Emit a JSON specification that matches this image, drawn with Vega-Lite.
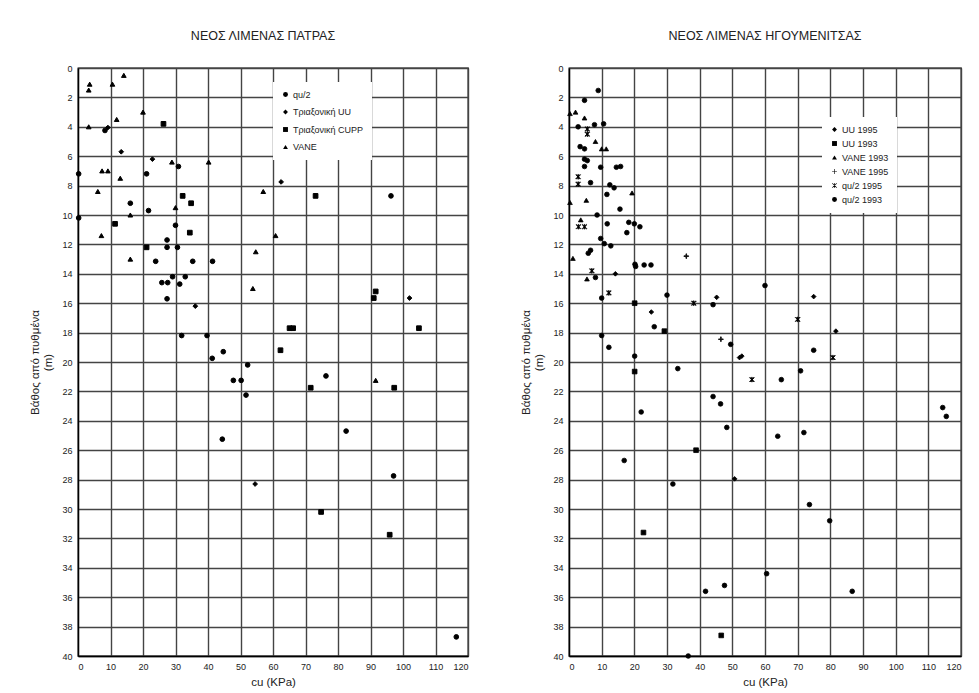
{
  "$schema": "https://vega.github.io/schema/vega-lite/v6.json",
  "background": "white",
  "padding": {"left": 28, "top": 28, "right": 5, "bottom": 5},
  "spacing": 50,
  "config": {
    "font": "Liberation Sans",
    "view": {"stroke": "black", "strokeWidth": 1.3},
    "axis": {"grid": true, "domain": true, "labelFontSize": 9, "labelColor": "#222", "titleFontSize": 11.5, "titleFontWeight": "normal", "titleColor": "#222", "gridColor": "#444444", "gridWidth": 1.4, "gridOpacity": 1, "domainColor": "#000000", "domainWidth": 1.3, "ticks": false, "labelPadding": 6, "titlePadding": 8},
    "title": {"fontSize": 12.5, "fontWeight": "normal", "color": "#222", "offset": 22, "anchor": "middle"},
    "legend": {"fillColor": "white", "padding": 8, "labelFontSize": 9, "labelColor": "#222", "symbolSize": 24, "symbolFillColor": "black", "symbolStrokeColor": "black", "symbolStrokeWidth": 1, "labelOffset": 3}
  },
  "datasets": {
    "patra": [
      {"cu": 3.6, "depth": 1.1, "series": "VANE"},
      {"cu": 3.3, "depth": 1.5, "series": "VANE"},
      {"cu": 10.6, "depth": 1.1, "series": "VANE"},
      {"cu": 14.1, "depth": 0.5, "series": "VANE"},
      {"cu": 20.0, "depth": 3.0, "series": "VANE"},
      {"cu": 11.9, "depth": 3.5, "series": "VANE"},
      {"cu": 3.3, "depth": 4.0, "series": "VANE"},
      {"cu": 28.9, "depth": 6.4, "series": "VANE"},
      {"cu": 40.2, "depth": 6.4, "series": "VANE"},
      {"cu": 7.4, "depth": 7.0, "series": "VANE"},
      {"cu": 9.2, "depth": 7.0, "series": "VANE"},
      {"cu": 13.0, "depth": 7.5, "series": "VANE"},
      {"cu": 6.1, "depth": 8.4, "series": "VANE"},
      {"cu": 30.0, "depth": 9.5, "series": "VANE"},
      {"cu": 16.1, "depth": 10.0, "series": "VANE"},
      {"cu": 7.2, "depth": 11.4, "series": "VANE"},
      {"cu": 57.0, "depth": 8.4, "series": "VANE"},
      {"cu": 54.7, "depth": 12.5, "series": "VANE"},
      {"cu": 16.1, "depth": 13.0, "series": "VANE"},
      {"cu": 60.8, "depth": 11.4, "series": "VANE"},
      {"cu": 53.8, "depth": 15.0, "series": "VANE"},
      {"cu": 91.6, "depth": 21.25, "series": "VANE"},
      {"cu": 26.3, "depth": 3.8, "series": "Τριαξονική CUPP"},
      {"cu": 32.2, "depth": 8.7, "series": "Τριαξονική CUPP"},
      {"cu": 34.8, "depth": 9.2, "series": "Τριαξονική CUPP"},
      {"cu": 11.4, "depth": 10.6, "series": "Τριαξονική CUPP"},
      {"cu": 34.4, "depth": 11.2, "series": "Τριαξονική CUPP"},
      {"cu": 21.1, "depth": 12.2, "series": "Τριαξονική CUPP"},
      {"cu": 73.1, "depth": 8.7, "series": "Τριαξονική CUPP"},
      {"cu": 91.6, "depth": 15.2, "series": "Τριαξονική CUPP"},
      {"cu": 91.0, "depth": 15.65, "series": "Τριαξονική CUPP"},
      {"cu": 65.1, "depth": 17.7, "series": "Τριαξονική CUPP"},
      {"cu": 66.2, "depth": 17.7, "series": "Τριαξονική CUPP"},
      {"cu": 104.9, "depth": 17.7, "series": "Τριαξονική CUPP"},
      {"cu": 62.3, "depth": 19.2, "series": "Τριαξονική CUPP"},
      {"cu": 71.6, "depth": 21.75, "series": "Τριαξονική CUPP"},
      {"cu": 97.3, "depth": 21.75, "series": "Τριαξονική CUPP"},
      {"cu": 74.8, "depth": 30.2, "series": "Τριαξονική CUPP"},
      {"cu": 95.9, "depth": 31.75, "series": "Τριαξονική CUPP"},
      {"cu": 13.3, "depth": 5.7, "series": "Τριαξονική UU"},
      {"cu": 22.9, "depth": 6.2, "series": "Τριαξονική UU"},
      {"cu": 62.5, "depth": 7.75, "series": "Τριαξονική UU"},
      {"cu": 36.1, "depth": 16.2, "series": "Τριαξονική UU"},
      {"cu": 102.0, "depth": 15.65, "series": "Τριαξονική UU"},
      {"cu": 54.5, "depth": 28.3, "series": "Τριαξονική UU"},
      {"cu": 9.2, "depth": 4.05, "series": "Τριαξονική UU"},
      {"cu": 8.3, "depth": 4.25, "series": "qu/2"},
      {"cu": 30.9, "depth": 6.7, "series": "qu/2"},
      {"cu": 0.2, "depth": 7.2, "series": "qu/2"},
      {"cu": 21.1, "depth": 7.2, "series": "qu/2"},
      {"cu": 16.1, "depth": 9.2, "series": "qu/2"},
      {"cu": 21.7, "depth": 9.7, "series": "qu/2"},
      {"cu": 0.2, "depth": 10.2, "series": "qu/2"},
      {"cu": 30.0, "depth": 10.7, "series": "qu/2"},
      {"cu": 27.4, "depth": 11.7, "series": "qu/2"},
      {"cu": 27.4, "depth": 12.2, "series": "qu/2"},
      {"cu": 30.6, "depth": 12.2, "series": "qu/2"},
      {"cu": 23.9, "depth": 13.15, "series": "qu/2"},
      {"cu": 35.3, "depth": 13.15, "series": "qu/2"},
      {"cu": 41.4, "depth": 13.15, "series": "qu/2"},
      {"cu": 29.1, "depth": 14.2, "series": "qu/2"},
      {"cu": 33.0, "depth": 14.2, "series": "qu/2"},
      {"cu": 25.8, "depth": 14.6, "series": "qu/2"},
      {"cu": 27.6, "depth": 14.6, "series": "qu/2"},
      {"cu": 31.3, "depth": 14.7, "series": "qu/2"},
      {"cu": 27.4, "depth": 15.7, "series": "qu/2"},
      {"cu": 31.9, "depth": 18.2, "series": "qu/2"},
      {"cu": 39.7, "depth": 18.2, "series": "qu/2"},
      {"cu": 44.7, "depth": 19.3, "series": "qu/2"},
      {"cu": 41.3, "depth": 19.75, "series": "qu/2"},
      {"cu": 52.2, "depth": 20.2, "series": "qu/2"},
      {"cu": 47.8, "depth": 21.25, "series": "qu/2"},
      {"cu": 50.2, "depth": 21.25, "series": "qu/2"},
      {"cu": 51.7, "depth": 22.25, "series": "qu/2"},
      {"cu": 44.4, "depth": 25.25, "series": "qu/2"},
      {"cu": 96.3, "depth": 8.7, "series": "qu/2"},
      {"cu": 76.3, "depth": 20.95, "series": "qu/2"},
      {"cu": 82.5, "depth": 24.7, "series": "qu/2"},
      {"cu": 97.1, "depth": 27.75, "series": "qu/2"},
      {"cu": 116.4, "depth": 38.7, "series": "qu/2"}
    ],
    "igoum": [
      {"cu": 0.3, "depth": 3.1, "series": "VANE 1993"},
      {"cu": 2.0, "depth": 3.0, "series": "VANE 1993"},
      {"cu": 4.75, "depth": 3.4, "series": "VANE 1993"},
      {"cu": 8.1, "depth": 5.0, "series": "VANE 1993"},
      {"cu": 10.0, "depth": 5.5, "series": "VANE 1993"},
      {"cu": 11.4, "depth": 5.5, "series": "VANE 1993"},
      {"cu": 19.3, "depth": 8.5, "series": "VANE 1993"},
      {"cu": 0.3, "depth": 9.15, "series": "VANE 1993"},
      {"cu": 5.3, "depth": 9.0, "series": "VANE 1993"},
      {"cu": 3.6, "depth": 10.33, "series": "VANE 1993"},
      {"cu": 1.2, "depth": 12.95, "series": "VANE 1993"},
      {"cu": 5.5, "depth": 14.35, "series": "VANE 1993"},
      {"cu": 35.9, "depth": 12.8, "series": "VANE 1995"},
      {"cu": 46.5, "depth": 18.45, "series": "VANE 1995"},
      {"cu": 5.6, "depth": 4.15, "series": "qu/2 1995"},
      {"cu": 5.6, "depth": 4.5, "series": "qu/2 1995"},
      {"cu": 2.8, "depth": 7.4, "series": "qu/2 1995"},
      {"cu": 2.8, "depth": 7.9, "series": "qu/2 1995"},
      {"cu": 2.9, "depth": 10.8, "series": "qu/2 1995"},
      {"cu": 4.75, "depth": 10.8, "series": "qu/2 1995"},
      {"cu": 7.0, "depth": 13.8, "series": "qu/2 1995"},
      {"cu": 12.2, "depth": 15.3, "series": "qu/2 1995"},
      {"cu": 38.2, "depth": 16.0, "series": "qu/2 1995"},
      {"cu": 70.0, "depth": 17.1, "series": "qu/2 1995"},
      {"cu": 80.8, "depth": 19.7, "series": "qu/2 1995"},
      {"cu": 56.0, "depth": 21.2, "series": "qu/2 1995"},
      {"cu": 20.1, "depth": 16.0, "series": "UU 1993"},
      {"cu": 20.1, "depth": 20.65, "series": "UU 1993"},
      {"cu": 38.9, "depth": 26.0, "series": "UU 1993"},
      {"cu": 22.8, "depth": 31.6, "series": "UU 1993"},
      {"cu": 46.6, "depth": 38.6, "series": "UU 1993"},
      {"cu": 29.2, "depth": 17.9, "series": "UU 1993"},
      {"cu": 45.2, "depth": 15.6, "series": "UU 1995"},
      {"cu": 74.9, "depth": 15.55, "series": "UU 1995"},
      {"cu": 81.7, "depth": 17.9, "series": "UU 1995"},
      {"cu": 52.2, "depth": 19.7, "series": "UU 1995"},
      {"cu": 52.9, "depth": 19.6, "series": "UU 1995"},
      {"cu": 14.2, "depth": 14.0, "series": "UU 1995"},
      {"cu": 25.2, "depth": 16.6, "series": "UU 1995"},
      {"cu": 50.7, "depth": 27.95, "series": "UU 1995"},
      {"cu": 8.95, "depth": 1.53, "series": "qu/2 1993"},
      {"cu": 4.75, "depth": 2.2, "series": "qu/2 1993"},
      {"cu": 2.8, "depth": 4.0, "series": "qu/2 1993"},
      {"cu": 7.8, "depth": 3.86, "series": "qu/2 1993"},
      {"cu": 10.6, "depth": 3.8, "series": "qu/2 1993"},
      {"cu": 3.4, "depth": 5.35, "series": "qu/2 1993"},
      {"cu": 4.75, "depth": 5.5, "series": "qu/2 1993"},
      {"cu": 4.75, "depth": 6.2, "series": "qu/2 1993"},
      {"cu": 5.6, "depth": 6.3, "series": "qu/2 1993"},
      {"cu": 4.75, "depth": 6.7, "series": "qu/2 1993"},
      {"cu": 9.7, "depth": 6.75, "series": "qu/2 1993"},
      {"cu": 14.5, "depth": 6.75, "series": "qu/2 1993"},
      {"cu": 15.8, "depth": 6.7, "series": "qu/2 1993"},
      {"cu": 6.6, "depth": 7.8, "series": "qu/2 1993"},
      {"cu": 12.5, "depth": 7.95, "series": "qu/2 1993"},
      {"cu": 13.8, "depth": 8.15, "series": "qu/2 1993"},
      {"cu": 11.6, "depth": 8.6, "series": "qu/2 1993"},
      {"cu": 15.6, "depth": 9.6, "series": "qu/2 1993"},
      {"cu": 8.6, "depth": 10.0, "series": "qu/2 1993"},
      {"cu": 11.7, "depth": 10.6, "series": "qu/2 1993"},
      {"cu": 18.3, "depth": 10.5, "series": "qu/2 1993"},
      {"cu": 20.0, "depth": 10.6, "series": "qu/2 1993"},
      {"cu": 21.7, "depth": 10.8, "series": "qu/2 1993"},
      {"cu": 17.7, "depth": 11.2, "series": "qu/2 1993"},
      {"cu": 9.7, "depth": 11.6, "series": "qu/2 1993"},
      {"cu": 10.8, "depth": 11.95, "series": "qu/2 1993"},
      {"cu": 12.8, "depth": 12.1, "series": "qu/2 1993"},
      {"cu": 6.6, "depth": 12.4, "series": "qu/2 1993"},
      {"cu": 5.9, "depth": 12.6, "series": "qu/2 1993"},
      {"cu": 20.2, "depth": 13.35, "series": "qu/2 1993"},
      {"cu": 20.4, "depth": 13.5, "series": "qu/2 1993"},
      {"cu": 23.0, "depth": 13.4, "series": "qu/2 1993"},
      {"cu": 25.1, "depth": 13.4, "series": "qu/2 1993"},
      {"cu": 8.1, "depth": 14.25, "series": "qu/2 1993"},
      {"cu": 10.0, "depth": 15.65, "series": "qu/2 1993"},
      {"cu": 30.0, "depth": 15.45, "series": "qu/2 1993"},
      {"cu": 44.1, "depth": 16.1, "series": "qu/2 1993"},
      {"cu": 26.1, "depth": 17.6, "series": "qu/2 1993"},
      {"cu": 10.0, "depth": 18.2, "series": "qu/2 1993"},
      {"cu": 49.5, "depth": 18.8, "series": "qu/2 1993"},
      {"cu": 12.2, "depth": 19.0, "series": "qu/2 1993"},
      {"cu": 20.1, "depth": 19.6, "series": "qu/2 1993"},
      {"cu": 33.3, "depth": 20.45, "series": "qu/2 1993"},
      {"cu": 22.1, "depth": 23.4, "series": "qu/2 1993"},
      {"cu": 44.1, "depth": 22.35, "series": "qu/2 1993"},
      {"cu": 46.4, "depth": 22.85, "series": "qu/2 1993"},
      {"cu": 48.3, "depth": 24.45, "series": "qu/2 1993"},
      {"cu": 60.0, "depth": 14.8, "series": "qu/2 1993"},
      {"cu": 74.9, "depth": 19.2, "series": "qu/2 1993"},
      {"cu": 70.9, "depth": 20.6, "series": "qu/2 1993"},
      {"cu": 65.0, "depth": 21.2, "series": "qu/2 1993"},
      {"cu": 114.4, "depth": 23.1, "series": "qu/2 1993"},
      {"cu": 115.5, "depth": 23.7, "series": "qu/2 1993"},
      {"cu": 63.9, "depth": 25.05, "series": "qu/2 1993"},
      {"cu": 71.9, "depth": 24.8, "series": "qu/2 1993"},
      {"cu": 16.9, "depth": 26.7, "series": "qu/2 1993"},
      {"cu": 31.8, "depth": 28.3, "series": "qu/2 1993"},
      {"cu": 73.6, "depth": 29.7, "series": "qu/2 1993"},
      {"cu": 79.8, "depth": 30.8, "series": "qu/2 1993"},
      {"cu": 60.5, "depth": 34.4, "series": "qu/2 1993"},
      {"cu": 47.6, "depth": 35.2, "series": "qu/2 1993"},
      {"cu": 41.8, "depth": 35.6, "series": "qu/2 1993"},
      {"cu": 86.7, "depth": 35.6, "series": "qu/2 1993"},
      {"cu": 36.5, "depth": 40.0, "series": "qu/2 1993"}
    ]
  },
  "resolve": {"scale": {"shape": "independent"}, "legend": {"shape": "independent"}},
  "hconcat": [
    {
      "width": 390,
      "height": 588,
      "view": {"stroke": "#000000", "strokeWidth": 1.3},
      "title": {"text": "ΝΕΟΣ ΛΙΜΕΝΑΣ ΠΑΤΡΑΣ", "dx": -10},
      "data": {"name": "patra"},
      "mark": {"type": "point", "filled": true, "fill": "black", "stroke": "black", "strokeWidth": 1, "size": 22, "opacity": 1},
      "encoding": {
        "x": {"field": "cu", "type": "quantitative", "scale": {"domain": [0, 120], "nice": false}, "axis": {"grid": true, "domain": true, "titlePadding": 5, "values": [0, 10, 20, 30, 40, 50, 60, 70, 80, 90, 100, 110, 120], "title": "cu (KPa)"}},
        "y": {"field": "depth", "type": "quantitative", "scale": {"domain": [0, 40], "reverse": true, "nice": false}, "axis": {"grid": true, "domain": true, "values": [0, 2, 4, 6, 8, 10, 12, 14, 16, 18, 20, 22, 24, 26, 28, 30, 32, 34, 36, 38, 40], "title": ["Βάθος από πυθμένα", "(m)"]}},
        "shape": {"field": "series", "type": "nominal",
          "scale": {"domain": ["qu/2", "Τριαξονική UU", "Τριαξονική CUPP", "VANE"], "range": ["circle", "diamond", "square", "triangle-up"]},
          "legend": {"title": null, "orient": "none", "legendX": 195, "legendY": 14, "rowPadding": 7.5}}
      }
    },
    {
      "width": 392,
      "height": 588,
      "view": {"stroke": "#000000", "strokeWidth": 1.3},
      "title": {"text": "ΝΕΟΣ ΛΙΜΕΝΑΣ ΗΓΟΥΜΕΝΙΤΣΑΣ"},
      "data": {"name": "igoum"},
      "mark": {"type": "point", "filled": true, "fill": "black", "stroke": "black", "strokeWidth": 0.8, "size": 22, "opacity": 1},
      "encoding": {
        "x": {"field": "cu", "type": "quantitative", "scale": {"domain": [0, 120], "nice": false}, "axis": {"grid": true, "domain": true, "titlePadding": 5, "values": [0, 10, 20, 30, 40, 50, 60, 70, 80, 90, 100, 110, 120], "title": "cu (KPa)"}},
        "y": {"field": "depth", "type": "quantitative", "scale": {"domain": [0, 40], "reverse": true, "nice": false}, "axis": {"grid": true, "domain": true, "values": [0, 2, 4, 6, 8, 10, 12, 14, 16, 18, 20, 22, 24, 26, 28, 30, 32, 34, 36, 38, 40], "title": ["Βάθος από πυθμένα", "(m)"]}},
        "shape": {"field": "series", "type": "nominal",
          "scale": {"domain": ["UU 1995", "UU 1993", "VANE 1993", "VANE 1995", "qu/2 1995", "qu/2 1993"],
            "range": ["diamond", "square", "triangle-up",
              "M-1,-0.13H-0.13V-1H0.13V-0.13H1V0.13H0.13V1H-0.13V0.13H-1Z",
              "M-1,-0.82L-0.82,-1L1,0.82L0.82,1Z M-1,0.82L0.82,-1L1,-0.82L-0.82,1Z M-0.13,-1H0.13V1H-0.13Z",
              "circle"]},
          "legend": {"title": null, "orient": "none", "legendX": 253, "legendY": 49, "rowPadding": 4}}
      }
    }
  ]
}
